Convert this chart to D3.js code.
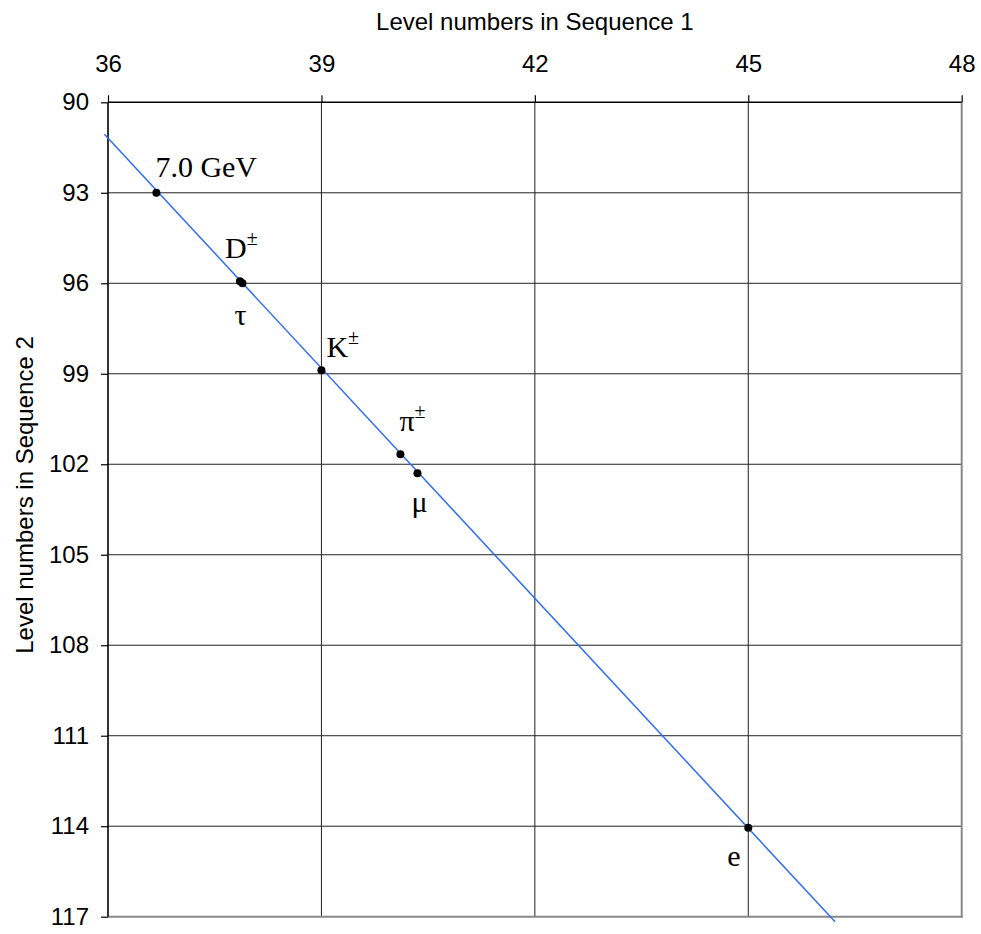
<!DOCTYPE html>
<html>
<head>
<meta charset="utf-8">
<script src="https://cdn.jsdelivr.net/npm/d3@7"></script>
<style>
  html, body { margin: 0; padding: 0; background: #fff; }
  svg { display: block; }
  .axis text { font-family: "Liberation Sans", Arial, sans-serif; font-size: 24px; fill: #000; }
  .axis path { display: none; }
  .axis line { stroke: #000; stroke-width: 1.2; }
  .title { font-family: "Liberation Sans", Arial, sans-serif; font-size: 24px; fill: #000; }
  .pt-label { font-family: "Liberation Serif", "Times New Roman", serif; font-size: 30px; fill: #000; }
</style>
</head>
<body>
<div id="chart"></div>
<script>
// Level numbers, sequence 1 (x) vs sequence 2 (y)
const xTicks = [36, 39, 42, 45, 48];
const yTicks = [90, 93, 96, 99, 102, 105, 108, 111, 114, 117];

const pointNames = ['7.0 GeV', 'D', 'τ', 'K', 'π', 'μ', 'e'];
const pointSup   = ['', '±', '', '±', '±', '', ''];
const pointX     = [36.68, 37.855, 37.89, 39.0, 40.11, 40.35, 45.0];
const pointY     = [93.0, 95.93, 96.0, 98.88, 101.67, 102.3, 114.05];

// fitted straight line through the points
const lineX = [35.95, 46.22];
const lineY = [91.06, 117.17];

const W = 981, H = 934;
const plot = { left: 108, right: 961.7, top: 102.3, bottom: 916.7 };

// label placement relative to its point (px)
const labelOffset = [[-1, -16], [-15, -23], [-8, 42], [5, -13], [-1, -23], [-6, 39], [-21, 38]];

const svg = d3.select('#chart').append('svg')
    .attr('width', W)
    .attr('height', H);

const x = d3.scaleLinear().domain([36, 48]).range([plot.left, plot.right]);
const y = d3.scaleLinear().domain([90, 117]).range([plot.top, plot.bottom]);

// Grid
const grid = svg.append('g').attr('class', 'grid');
grid.selectAll('.vgrid')
    .data(xTicks.slice(1, -1))
    .enter().append('line')
    .attr('x1', d => x(d)).attr('x2', d => x(d))
    .attr('y1', plot.top).attr('y2', plot.bottom)
    .attr('stroke', '#222').attr('stroke-width', 1);
grid.selectAll('.hgrid')
    .data(yTicks.slice(1, -1))
    .enter().append('line')
    .attr('x1', plot.left).attr('x2', plot.right)
    .attr('y1', d => y(d)).attr('y2', d => y(d))
    .attr('stroke', '#222').attr('stroke-width', 1);

// Right and bottom frame (grey)
svg.append('line')
    .attr('x1', x(48)).attr('x2', x(48)).attr('y1', plot.top).attr('y2', plot.bottom + 1)
    .attr('stroke', '#888').attr('stroke-width', 2);
svg.append('line')
    .attr('x1', plot.left).attr('x2', plot.right + 1).attr('y1', y(117)).attr('y2', y(117))
    .attr('stroke', '#888').attr('stroke-width', 2);

// Axes
const xAxis = svg.append('g')
    .attr('class', 'axis x-axis')
    .attr('transform', `translate(0,${plot.top})`)
    .call(d3.axisTop(x).tickValues(xTicks).tickSize(7).tickPadding(23).tickFormat(d3.format('d')));
xAxis.selectAll('text').attr('dy', '0');

const yAxis = svg.append('g')
    .attr('class', 'axis y-axis')
    .attr('transform', `translate(${plot.left},0)`)
    .call(d3.axisLeft(y).tickValues(yTicks).tickSize(7).tickPadding(12).tickFormat(d3.format('d')));

// Axis lines: left and top in black
svg.append('line')
    .attr('x1', plot.left).attr('x2', plot.left).attr('y1', plot.top).attr('y2', plot.bottom)
    .attr('stroke', '#000').attr('stroke-width', 1.6);
svg.append('line')
    .attr('x1', plot.left).attr('x2', plot.right).attr('y1', plot.top).attr('y2', plot.top)
    .attr('stroke', '#000').attr('stroke-width', 1.6);

// Titles
svg.append('text')
    .attr('class', 'title')
    .attr('x', (plot.left + plot.right) / 2)
    .attr('y', 30)
    .attr('text-anchor', 'middle')
    .text('Level numbers in Sequence 1');

svg.append('text')
    .attr('class', 'title')
    .attr('transform', `translate(33,495) rotate(-90)`)
    .attr('text-anchor', 'middle')
    .text('Level numbers in Sequence 2');

// Fitted line
const lineData = lineX.map((v, i) => ({ x: v, y: lineY[i] }));
svg.append('path')
    .datum(lineData)
    .attr('fill', 'none')
    .attr('stroke', '#2f6cf5')
    .attr('stroke-width', 1.5)
    .attr('d', d3.line().x(d => x(d.x)).y(d => y(d.y)));

// Points
const points = pointNames.map((n, i) => ({
    name: n, sup: pointSup[i], x: pointX[i], y: pointY[i], off: labelOffset[i]
}));

svg.append('g').selectAll('circle')
    .data(points)
    .enter().append('circle')
    .attr('cx', d => x(d.x))
    .attr('cy', d => y(d.y))
    .attr('r', 4)
    .attr('fill', '#000');

const labels = svg.append('g').selectAll('text')
    .data(points)
    .enter().append('text')
    .attr('class', 'pt-label')
    .attr('x', d => x(d.x) + d.off[0])
    .attr('y', d => y(d.y) + d.off[1]);

labels.append('tspan').text(d => d.name);
labels.filter(d => d.sup)
    .append('tspan')
    .attr('dy', -13)
    .attr('font-size', 20)
    .text(d => d.sup);
</script>
</body>
</html>
